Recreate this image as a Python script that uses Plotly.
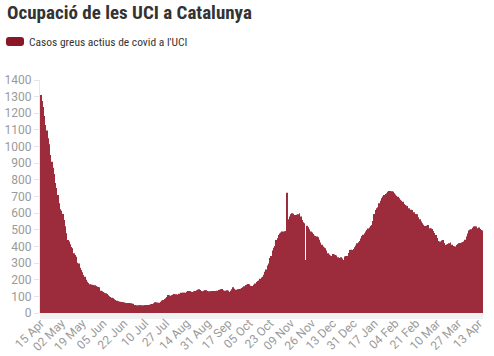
import pandas as pd
import plotly.graph_objects as go

title_text = "Ocupació de les UCI a Catalunya"
series_name = "Casos greus actius de covid a l'UCI"

start_date = "2020-04-15"
end_date = "2021-04-16"
missing_dates = ["2020-06-28", "2020-08-02", "2020-09-20", "2020-10-11", "2020-12-25", "2021-01-24"]

uci_cases = [
    1310, 1274, 1238, 1184, 1130, 1096, 1050, 1014, 950, 909, 873, 835, 781, 751, 709, 660, 623, 615, 595, 559, 521,
    479, 439, 429, 413, 397, 389, 359, 349, 338, 302, 298, 272, 258, 245, 228, 218, 200, 188, 180, 172,
    170, 169, 168, 166, 162, 158, 156, 154, 134, 130, 126, 122, 118, 114, 106, 100, 96, 92, 88, 82,
    78, 74, 70, 68, 67, 66, 64, 62, 61, 60, 60, 59, 58, 58, 56, 48, 48, 47, 47, 46, 47, 47, 46, 47, 47, 48, 48, 48, 49, 52,
    54, 58, 64, 63, 62, 62, 62, 68, 74, 78, 84, 88, 96, 108, 106, 104, 106, 110, 114, 113, 110, 110, 116, 122, 122, 121, 122, 122, 128, 132,
    132, 130, 128, 126, 130, 132, 136, 140, 142, 138, 132, 130, 134, 136, 136, 132, 130, 128, 130, 132, 132, 132, 132, 134, 138, 140, 142, 144, 136, 134,
    132, 136, 134, 126, 134, 142, 154, 146, 140, 138, 142, 144, 146, 150, 154, 160, 168, 170, 174, 172,
    164, 162, 160, 170, 178, 186, 192, 196, 206, 214, 218, 230, 248, 262, 285, 298, 330, 343, 375, 392, 403, 439, 449, 469, 478, 484, 489, 490, 489, 492,
    723, 563, 580, 593, 599, 596, 589, 588, 590, 593, 600, 580, 559, 545, 539, 318, 525, 515, 503, 490, 483, 474, 465, 462, 459, 455, 440, 423, 410, 399,
    394, 389, 375, 359, 352, 346, 343, 355, 352, 348, 345, 335, 325, 330, 335, 328, 318, 339, 342, 343, 360, 379, 380, 379, 385, 395, 405, 419, 425, 433,
    448, 463, 470, 479, 490, 499, 507, 513, 522, 529,
    553, 595, 619, 630, 635, 659, 675, 689, 700, 709, 715, 719, 728, 733, 733, 731, 729, 719, 712, 705, 699, 689, 680, 675, 669, 655, 649, 645, 643, 630,
    619, 620, 619, 605, 595, 594, 593, 575, 563, 550, 539, 530, 522, 519, 525, 529, 509, 507, 505, 493, 480, 469, 450, 433, 430, 429, 435, 439, 420, 409,
    412, 415, 419, 423, 410, 403, 400, 399, 409, 415, 419, 421, 423, 426, 429, 440, 459, 478, 495, 500, 503, 512, 519, 519, 519, 509, 513, 505, 499, 495,
]

tick_step = 17
y_ticks = list(range(0, 1401, 100))

all_days = pd.date_range(start_date, end_date, freq="D")
days = [d for d in all_days if d.strftime("%Y-%m-%d") not in missing_dates]
categories = [d.strftime("%Y-%m-%d") for d in days]
n = min(len(categories), len(uci_cases))
categories = categories[:n]
values = uci_cases[:n]

tick_vals = categories[::tick_step]
tick_text = [d.strftime("%d %b") for d in days[:n:tick_step]]

SWATCH = "#8b1626"
BAR = "#9c2b3c"
GREY = "#9a9a9a"
COND = "Roboto Condensed, Liberation Sans Narrow, Roboto, sans-serif"

fig = go.Figure()
fig.add_trace(go.Bar(
    x=categories, y=values, name=series_name,
    marker=dict(color=BAR, line=dict(width=0)),
    showlegend=False,
))

W, H = 494, 356
L, R, T, B = 40, 11, 80, 43
pw, ph = W - L - R, H - T - B

fig.update_layout(
    width=W, height=H,
    margin=dict(l=L, r=R, t=T, b=B, pad=0, autoexpand=False),
    paper_bgcolor="white", plot_bgcolor="white",
    bargap=0.3,
    font=dict(family="Roboto, sans-serif", color=GREY, size=12),
    title=dict(
        text="<b>" + title_text + "</b>",
        font=dict(family=COND, size=19, color="#333333"),
        x=0, xanchor="left", xref="container",
        y=1 - 12 / H, yanchor="middle", yref="container",
        pad=dict(l=7, r=0, t=0, b=0),
    ),
    xaxis=dict(
        type="category", automargin=False,
        tickmode="array", tickvals=tick_vals, ticktext=tick_text,
        tickangle=-45, ticks="", showgrid=False, zeroline=False, showline=False,
        tickfont=dict(size=12, color=GREY),
    ),
    yaxis=dict(
        range=[0, 1400], tickvals=y_ticks, automargin=False,
        ticks="outside", ticklen=5, tickcolor="#e4e4e4",
        showline=True, linecolor="#e8e8e8", linewidth=1,
        showgrid=False, zeroline=False,
        tickfont=dict(size=12, color=GREY),
    ),
)

# grey band under the plot
fig.add_shape(type="rect", xref="paper", yref="paper", x0=0, x1=1, y0=-6 / ph, y1=0,
              fillcolor="#f1f1f1", line=dict(width=0), layer="below")

# legend swatch (rounded) and text
sw_path = ("M3,-4.5 L15,-4.5 Q18,-4.5 18,-1.5 L18,1.5 Q18,4.5 15,4.5 "
           "L3,4.5 Q0,4.5 0,1.5 L0,-1.5 Q0,-4.5 3,-4.5 Z")
fig.add_shape(type="path", xref="paper", yref="paper",
              xsizemode="pixel", ysizemode="pixel",
              xanchor=(6 - L) / pw, yanchor=1 + (T - 41.5) / ph,
              path=sw_path, fillcolor=SWATCH, line=dict(width=0))
fig.add_annotation(
    text=series_name, xref="paper", yref="paper",
    x=(27 - L) / pw, y=1 + (T - 41.5) / ph, xanchor="left", yanchor="middle",
    showarrow=False,
    font=dict(family=COND, size=11.5, color="#333333"),
)

fig.write_html(
    "out.html",
    config={"displayModeBar": False},
    post_script="document.body.style.margin='0';document.body.style.padding='0';",
)
